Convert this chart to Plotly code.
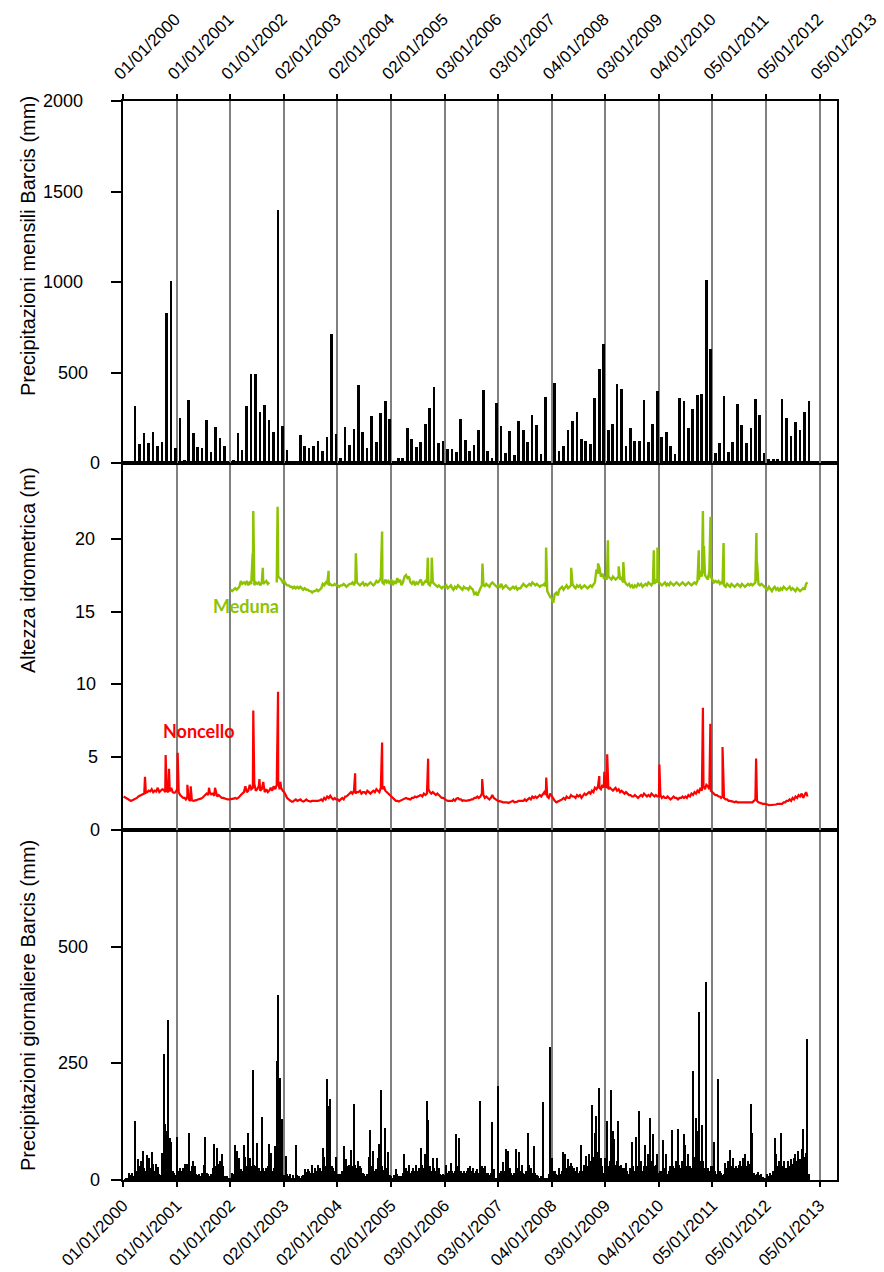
import plotly.graph_objects as go
import pandas as pd

# ---------------- axis ticks ----------------
tick_dates = ["2000-01-01", "2001-01-01", "2002-01-01", "2003-01-02", "2004-01-02",
              "2005-01-02", "2006-01-03", "2007-01-03", "2008-01-04", "2009-01-03",
              "2010-01-04", "2011-01-05", "2012-01-05", "2013-01-05"]
tick_labels = ["01/01/2000", "01/01/2001", "01/01/2002", "02/01/2003", "02/01/2004",
               "02/01/2005", "03/01/2006", "03/01/2007", "04/01/2008", "03/01/2009",
               "04/01/2010", "05/01/2011", "05/01/2012", "05/01/2013"]

# ---------------- monthly precipitation Barcis (mm), Jan 2000 .. Oct 2012 ----------------
monthly_mm = [
    0, 5, 313, 107, 166, 110, 173, 92, 118, 829, 1006, 81,        # 2000
    247, 15, 350, 168, 88, 85, 236, 63, 199, 138, 96, 4,          # 2001
    18, 166, 70, 313, 490, 494, 284, 320, 238, 173, 1400, 206,    # 2002
    72, 7, 0, 153, 96, 85, 96, 122, 68, 142, 713, 162,            # 2003
    26, 199, 99, 188, 433, 173, 85, 258, 114, 276, 341, 245,      # 2004
    7, 26, 26, 192, 134, 88, 118, 214, 304, 422, 110, 123,        # 2005
    77, 77, 59, 243, 129, 66, 99, 184, 401, 66, 26, 333,          # 2006
    203, 57, 175, 44, 232, 184, 118, 267, 210, 50, 367, 6,        # 2007
    444, 68, 96, 184, 234, 284, 134, 122, 103, 357, 519, 656,     # 2008
    184, 217, 437, 411, 92, 195, 122, 122, 348, 114, 214, 400,    # 2009
    144, 173, 92, 52, 357, 343, 192, 298, 378, 383, 1013, 632,    # 2010
    57, 110, 370, 63, 114, 324, 210, 110, 195, 352, 267, 53,      # 2011
    20, 20, 20, 352, 249, 149, 228, 182, 282, 344,                # 2012
]

# ---------------- daily precipitation Barcis (mm): max per 10-day period ----------------
daily_2000 = [0,2,5,3,15,10,15,8,126,20, 44,30,40,63,26,20,53,48,25,60, 35,20,35,28,12,10,57,271,119,105, 343,90,82,19,15,10]
daily_2001 = [92,20,26,20,26,35,25,35,101,20, 30,41,30,12,10,12,8,15,33,92, 15,12,8,12,26,78,30,68,35,41, 55,30,8,5,8,3]
daily_2002 = [5,15,12,76,62,30,48,23,20,76, 50,30,101,48,30,236,33,30,80,26, 20,135,26,20,26,30,78,58,20,25, 73,255,397,218,40,130]
daily_2003 = [10,52,12,8,12,5,10,5,74,10, 8,5,8,10,23,18,23,20,15,32, 15,26,20,33,26,20,68,50,30,216, 158,174,30,26,20,50]
daily_2004 = [12,8,12,20,73,25,44,30,33,65, 30,163,33,25,41,31,25,15,12,8, 12,49,108,30,63,20,23,48,78,192, 30,21,112,25,60,11]
daily_2005 = [8,5,11,23,12,8,5,8,15,55, 26,20,33,15,20,26,20,32,20,25, 69,33,25,55,169,128,30,19,48,25, 20,48,25,12,10,12]
daily_2006 = [10,32,15,20,36,20,15,20,98,30, 90,19,15,19,15,20,25,30,20,26, 15,20,23,15,170,30,25,30,15,15, 10,15,124,24,5,3]
daily_2007 = [201,15,20,38,20,67,62,62,25,15, 10,15,67,25,60,20,33,15,12,20, 100,32,26,15,73,15,10,8,5,8, 167,5,3,5,12,286]
daily_2008 = [48,20,19,12,10,26,12,20,60,55, 25,46,30,37,30,25,20,28,15,20, 76,20,33,51,30,55,40,160,50,101, 137,60,198,48,30,15]
daily_2009 = [48,126,30,40,192,105,87,33,40,126, 30,33,25,26,37,20,12,25,81,30, 19,92,30,147,40,19,30,74,30,55, 132,40,98,30,33,55]
daily_2010 = [15,19,20,85,25,55,12,20,30,108, 30,26,40,110,33,25,40,98,76,30, 55,30,26,234,50,133,105,361,40,117, 40,26,425,26,19,30]
daily_2011 = [30,81,20,12,217,20,15,10,12,37, 25,41,65,30,48,25,30,25,33,41, 30,48,55,30,40,35,163,101,15,10, 12,17,10,12,6,5]
daily_2012 = [5,12,8,15,10,20,90,55,30,41, 100,30,41,25,26,41,30,44,35,48, 55,40,62,45,66,110,50,58,303,12]

# ---------------- water level (m): 10-day base values ----------------
noncello_base = [
    2.3,2.25,2.2, 2.1,2.05,2.0, 2.05,2.1,2.1, 2.2,2.3,2.35, 2.4,2.5,2.5, 2.55,2.6,2.7, 2.65,2.8,2.6, 2.7,2.65,2.9, 2.6,2.7,2.8, 2.75,2.6,2.7, 2.6,2.65,2.9, 2.6,2.55,2.6,   # 2000
    2.8,2.6,2.4, 2.3,2.2,2.2, 2.1,2.3,2.1, 2.0,2.05,2.0, 2.0,2.05,2.1, 2.1,2.15,2.2, 2.3,2.4,2.5, 2.4,2.6,2.45, 2.5,2.35,2.6, 2.3,2.4,2.3, 2.2,2.2,2.15, 2.1,2.1,2.1,   # 2001
    2.1,2.1,2.15, 2.2,2.15,2.2, 2.3,2.4,2.5, 2.6,3.0,2.6, 2.7,3.1,2.8, 2.9,3.2,2.7, 2.8,3.0,2.7, 2.8,3.3,2.6, 2.8,2.6,2.7, 2.9,2.7,3.0, 2.8,3.1,3.2, 2.8,2.9,2.7,        # 2002
    2.6,2.4,2.2, 2.1,2.0,1.95, 1.95,2.0,2.1, 2.0,2.05,2.1, 2.0,1.95,2.0, 2.1,2.0,1.95, 1.95,2.0,2.0, 2.0,1.95,2.0, 2.05,2.1,2.0, 2.2,2.1,2.3, 2.2,2.35,2.2, 2.1,2.2,2.1, # 2003
    2.1,2.0,2.1, 2.2,2.1,2.3, 2.3,2.4,2.5, 2.6,2.5,2.7, 2.5,2.6,2.6, 2.7,2.5,2.6, 2.6,2.5,2.7, 2.6,2.5,2.6, 2.7,2.6,2.8, 2.7,2.6,2.9, 2.8,3.0,2.7, 2.6,2.5,2.4,         # 2004
    2.3,2.2,2.1, 2.0,2.0,1.95, 2.0,2.05,2.1, 2.1,2.2,2.15, 2.1,2.1,2.2, 2.2,2.3,2.25, 2.3,2.35,2.4, 2.3,2.5,2.4, 2.5,2.8,2.6, 2.5,2.6,2.5, 2.4,2.5,2.4, 2.3,2.2,2.2,   # 2005
    2.1,2.05,2.0, 2.0,1.95,2.0, 2.1,2.0,2.15, 2.2,2.1,2.1, 2.0,2.05,2.0, 2.0,2.0,2.05, 2.1,2.1,2.2, 2.2,2.3,2.2, 2.3,2.5,2.4, 2.2,2.3,2.2, 2.1,2.2,2.4, 2.2,2.1,2.05, # 2006
    2.0,2.0,1.95, 1.9,1.9,1.95, 1.9,1.85,1.9, 1.95,2.0,1.9, 1.9,1.95,2.0, 2.0,2.05,2.0, 2.1,2.0,2.1, 2.2,2.1,2.3, 2.2,2.3,2.2, 2.3,2.4,2.3, 2.5,2.6,2.4, 2.3,2.2,2.5, # 2007
    2.3,2.1,2.0, 1.9,1.95,2.0, 2.0,2.1,2.2, 2.1,2.3,2.2, 2.2,2.4,2.3, 2.3,2.2,2.4, 2.3,2.4,2.2, 2.4,2.5,2.4, 2.5,2.6,2.5, 2.7,2.6,2.9, 2.8,3.0,2.9, 2.8,3.1,2.9,       # 2008
    3.0,2.9,2.8, 2.9,2.8,2.7, 2.8,2.9,2.7, 2.8,2.6,2.7, 2.6,2.5,2.6, 2.5,2.4,2.4, 2.3,2.3,2.4, 2.3,2.2,2.3, 2.4,2.3,2.5, 2.4,2.3,2.4, 2.3,2.5,2.4, 2.3,2.4,2.3,         # 2009
    2.3,2.4,2.2, 2.3,2.2,2.2, 2.3,2.2,2.1, 2.2,2.3,2.2, 2.2,2.1,2.2, 2.2,2.3,2.2, 2.3,2.2,2.4, 2.3,2.5,2.4, 2.6,2.5,2.7, 2.6,2.9,2.7, 3.0,2.8,3.1, 3.0,2.8,2.7,         # 2010
    2.6,2.5,2.4, 2.4,2.3,2.3, 2.2,2.3,2.2, 2.1,2.1,2.0, 2.0,2.0,1.95, 1.9,1.95,1.9, 1.9,1.85,1.9, 1.85,1.9,1.85, 1.9,1.85,1.9, 1.9,2.0,2.1, 2.0,1.9,1.85, 1.8,1.8,1.8, # 2011
    1.8,1.75,1.7, 1.7,1.75,1.7, 1.7,1.75,1.8, 1.8,1.75,1.8, 1.9,1.9,2.0, 2.0,2.1,2.0, 2.2,2.1,2.3, 2.2,2.4,2.3, 2.5,2.2,2.4, 2.6,2.3,                                    # 2012
]
noncello_peak_dates = ["2000-05-30", "2000-10-18", "2000-11-10", "2001-01-08", "2001-03-15", "2001-04-07",
                       "2001-08-10", "2001-09-20", "2002-06-08", "2002-07-20", "2002-11-24", "2002-12-10",
                       "2004-05-03", "2004-11-03", "2005-09-13", "2006-09-17", "2007-11-28", "2008-11-24",
                       "2008-12-28", "2009-01-17", "2010-01-08", "2010-11-01", "2010-12-22", "2011-03-15",
                       "2011-10-30"]
noncello_peak_vals = [3.66, 5.15, 4.2, 5.3, 3.1, 3.0, 2.9, 2.9, 8.2, 3.5, 9.5, 3.3,
                      3.9, 6.0, 4.9, 3.5, 3.6, 3.7, 4.0, 5.2, 4.5, 8.4, 7.3, 5.7, 4.9]

meduna_base = [
    16.5,16.4,16.5, 16.6,16.5,16.6, 16.7,17.1,16.9, 17.0,16.9,17.1, 16.8,17.0,16.9, 17.1,16.8,17.0, 16.9,17.0,16.8, 17.0,16.9,17.0, 17.1,16.9,17.0, None,None,None, None,17.0,17.4, 17.3,17.2,17.0,  # 2002
    17.1,16.9,16.8, 16.8,16.7,16.7, 16.6,16.7,16.6, 16.7,16.6,16.7, 16.6,16.5,16.6, 16.5,16.5,16.4, 16.4,16.3,16.4, 16.4,16.5,16.4, 16.5,16.6,16.9, 16.8,17.0,16.9, 16.8,16.9,16.8, 16.8,16.9,16.8,  # 2003
    16.8,16.7,16.8, 16.8,16.9,16.8, 16.7,16.8,16.9, 16.9,17.0,16.8, 17.1,17.0,16.9, 16.8,16.9,17.0, 16.8,16.9,16.8, 16.9,17.0,16.9, 16.8,16.9,17.1, 17.0,17.1,17.3, 17.0,16.9,17.2, 17.0,17.1,16.9,  # 2004
    17.2,16.8,17.1, 16.9,17.3,17.0, 17.2,16.8,17.0, 17.4,17.5,17.3, 17.4,17.0,16.9, 17.1,16.8,17.0, 16.9,17.1,17.2, 16.8,17.0,17.1, 17.0,16.9,16.8, 17.1,17.0,16.9, 16.8,16.7,16.8, 16.7,16.6,16.7,  # 2005
    16.7,16.8,16.6, 16.7,16.8,16.6, 16.5,16.7,16.6, 16.8,16.7,16.6, 16.5,16.7,16.6, 16.6,16.5,16.7, 16.6,16.5,16.2, 16.3,16.1,16.4, 16.6,16.8,16.9, 16.7,16.9,16.8, 16.7,16.9,17.0, 16.9,16.8,16.7,  # 2006
    16.8,16.7,16.9, 16.6,16.7,16.8, 16.7,16.6,16.5, 16.6,16.7,16.6, 16.7,16.5,16.6, 16.6,16.8,16.9, 16.8,16.7,16.8, 16.9,16.8,17.0, 16.9,16.8,16.9, 16.8,16.7,16.8, 16.8,16.9,16.7, 16.4,16.2,16.0,  # 2007
    15.9,15.6,16.2, 16.3,16.1,16.5, 16.6,16.7,16.5, 16.7,16.8,16.6, 16.7,16.8,16.9, 16.7,16.6,16.8, 16.7,16.8,16.6, 16.7,16.8,16.7, 16.6,16.7,16.8, 16.7,16.9,17.0, 17.9,17.6,18.0, 17.4,17.6,17.3,  # 2008
    17.3,17.2,17.4, 17.3,17.2,17.4, 17.3,17.2,17.3, 17.4,17.2,17.3, 17.0,17.1,16.9, 16.8,16.9,16.7, 16.8,16.6,16.8, 16.7,16.9,16.8, 16.9,16.7,16.8, 16.9,16.8,17.0, 16.9,16.8,17.0, 16.9,17.1,17.0,  # 2009
    17.0,16.9,16.8, 16.9,17.0,16.8, 16.9,16.8,17.0, 16.9,16.8,16.9, 17.0,16.9,16.8, 16.9,17.0,16.9, 16.8,16.9,17.0, 16.9,16.8,16.9, 17.0,16.9,17.1, 17.2,17.8,17.4, 17.6,17.5,17.3, 17.2,17.8,17.4,  # 2010
    17.2,17.0,17.1, 17.0,17.1,16.9, 17.0,16.9,16.8, 16.7,16.9,16.8, 16.7,16.9,16.8, 16.7,16.8,16.9, 16.8,16.7,16.9, 16.8,16.7,16.8, 16.9,16.8,16.9, 16.8,16.9,17.0, 17.1,16.9,16.8, 16.9,16.8,16.7,  # 2011
    16.6,16.5,16.7, 16.5,16.4,16.6, 16.7,16.5,16.6, 16.4,16.6,16.5, 16.7,16.6,16.5, 16.6,16.7,16.5, 16.6,16.5,16.4, 16.6,16.5,16.4, 16.5,16.6,16.5, 16.9,17.0,                                      # 2012
]
meduna_peak_dates = ["2002-06-04", "2002-06-08", "2002-08-12", "2002-11-21", "2002-11-23", "2003-11-04",
                     "2004-05-08", "2004-11-03", "2005-09-11", "2005-10-08", "2006-09-19", "2007-11-27",
                     "2008-05-16", "2008-11-15", "2009-01-22", "2009-04-05", "2009-05-07", "2009-12-01",
                     "2009-12-26", "2010-10-04", "2010-11-01", "2010-11-08", "2010-12-23", "2011-03-22",
                     "2011-11-01", "2011-11-05"]
meduna_peak_vals = [19.0, 21.9, 18.0, 22.2, 20.5, 17.8, 19.0, 20.5, 18.7, 18.7, 18.3, 19.4,
                    18.0, 18.3, 19.9, 18.1, 18.4, 19.2, 19.4, 19.2, 21.9, 19.5, 21.5, 19.7,
                    20.4, 18.4]

GREEN = "#8DC300"
RED = "#FF0000"


def dekad_dates(start_year, n):
    out = []
    for i in range(n):
        y = start_year + i // 36
        m = (i % 36) // 3 + 1
        d = (5, 15, 25)[i % 3]
        out.append(pd.Timestamp(y, m, d))
    return out


def merge_series(start_year, base, peak_dates, peak_vals):
    df = pd.DataFrame({
        "d": dekad_dates(start_year, len(base)) + [pd.Timestamp(p) for p in peak_dates],
        "v": [float("nan") if b is None else b for b in base] + list(peak_vals),
    })
    return df.sort_values("d", kind="stable")


monthly_dates = [pd.Timestamp(2000 + i // 12, i % 12 + 1, 24) for i in range(len(monthly_mm))]
daily_mm = (daily_2000 + daily_2001 + daily_2002 + daily_2003 + daily_2004 + daily_2005 + daily_2006 +
            daily_2007 + daily_2008 + daily_2009 + daily_2010 + daily_2011 + daily_2012)
daily_dates = dekad_dates(2000, len(daily_mm))

non = merge_series(2000, noncello_base, noncello_peak_dates, noncello_peak_vals)
med = merge_series(2002, meduna_base, meduna_peak_dates, meduna_peak_vals)

DAY = 86400000

fig = go.Figure()
fig.add_trace(go.Bar(x=monthly_dates, y=monthly_mm, width=18 * DAY, marker=dict(color="black", line=dict(width=0)),
                     xaxis="x3", yaxis="y3", name="mensili"))
fig.add_trace(go.Scatter(x=non["d"], y=non["v"], mode="lines", line=dict(color=RED, width=2.2),
                         xaxis="x2", yaxis="y2", name="Noncello"))
fig.add_trace(go.Scatter(x=med["d"], y=med["v"], mode="lines", line=dict(color=GREEN, width=2.4),
                         xaxis="x2", yaxis="y2", name="Meduna", connectgaps=False))
fig.add_trace(go.Bar(x=daily_dates, y=daily_mm, width=9 * DAY, marker=dict(color="black", line=dict(width=0)),
                     xaxis="x", yaxis="y", name="giornaliere"))

# ---------------- layout ----------------
L, R, T, B = 123, 47, 101, 92
W, H = 884, 1272
PW, PH = W - L - R, H - T - B


def px_x(px):
    return (px - L) / PW


def px_y(py):
    return (H - B - py) / PH


d_bot = [0, px_y(830)]
d_mid = [px_y(830), px_y(463)]
d_top = [px_y(463), 1]

xcommon = dict(type="date", range=["2000-01-01", "2013-05-04"], tickvals=tick_dates, ticktext=tick_labels,
               showgrid=True, gridcolor="#808080", gridwidth=1.5, showline=True, linecolor="black",
               linewidth=2, mirror=True, zeroline=False, tickangle=-45, ticks="outside", ticklen=5,
               tickcolor="black", tickwidth=1.5, tickfont=dict(size=17, color="black"), domain=[0, 1],
               automargin=False, ticklabeloverflow="allow")
ycommon = dict(showgrid=False, zeroline=False, showline=True, linecolor="black", linewidth=2, mirror=True,
               ticks="outside", ticklen=10, tickcolor="black", tickwidth=1.5, showticklabels=False,
               automargin=False)

fig.update_layout(
    template="none",
    width=W, height=H, margin=dict(l=L, r=R, t=T, b=B, autoexpand=False),
    plot_bgcolor="white", paper_bgcolor="white", showlegend=False, bargap=0,
    font=dict(family="Liberation Sans, Arial, sans-serif", size=18, color="black"),
    xaxis=dict(xcommon, anchor="y", ticklabelstandoff=2),
    xaxis2=dict(xcommon, anchor="y2", showticklabels=False, ticks="", matches="x"),
    xaxis3=dict(xcommon, anchor="y3", side="top", matches="x", ticklabelshift=-8, ticklabelstandoff=4),
    yaxis=dict(ycommon, domain=d_bot, range=[0, 750], tickvals=[0, 250, 500]),
    yaxis2=dict(ycommon, domain=d_mid, range=[0, 25.2], tickvals=[0, 5, 10, 15, 20]),
    yaxis3=dict(ycommon, domain=d_top, range=[0, 2000], tickvals=[0, 500, 1000, 1500, 2000]),
)

ann = []
# y tick labels (right edge in pixels as in the reference)
ytick_specs = [
    ("y3", [(0, "0", 102), (500, "500", 90), (1000, "1000", 85), (1500, "1500", 85), (2000, "2000", 85)]),
    ("y2", [(0, "0", 102), (5, "5", 100), (10, "10", 98), (15, "15", 97), (20, "20", 97)]),
    ("y", [(0, "0", 102), (250, "250", 90), (500, "500", 90)]),
]
for yref, items in ytick_specs:
    for val, txt, right in items:
        ann.append(dict(xref="paper", yref=yref, x=px_x(right), y=val, text=txt, showarrow=False,
                        xanchor="right", yanchor="middle", font=dict(size=18, color="black")))

# axis titles
for txt, cy in [("Precipitazioni mensili Barcis (mm)", 246), ("Altezza idrometrica (m)", 570),
                ("Precipitazioni giornaliere Barcis (mm)", 1006)]:
    ann.append(dict(xref="paper", yref="paper", x=px_x(28), y=px_y(cy), text=txt, textangle=-90,
                    showarrow=False, xanchor="center", yanchor="middle", font=dict(size=20, color="black")))

# series labels
ann.append(dict(xref="paper", yref="paper", x=px_x(246), y=px_y(606), text="<b>Meduna</b>", showarrow=False,
                xanchor="center", yanchor="middle", font=dict(family="Lato, sans-serif", size=18, color=GREEN)))
ann.append(dict(xref="paper", yref="paper", x=px_x(199), y=px_y(731), text="<b>Noncello</b>", showarrow=False,
                xanchor="center", yanchor="middle", font=dict(family="Lato, sans-serif", size=18, color=RED)))

fig.update_layout(annotations=ann)
fig.write_html("out.html")
